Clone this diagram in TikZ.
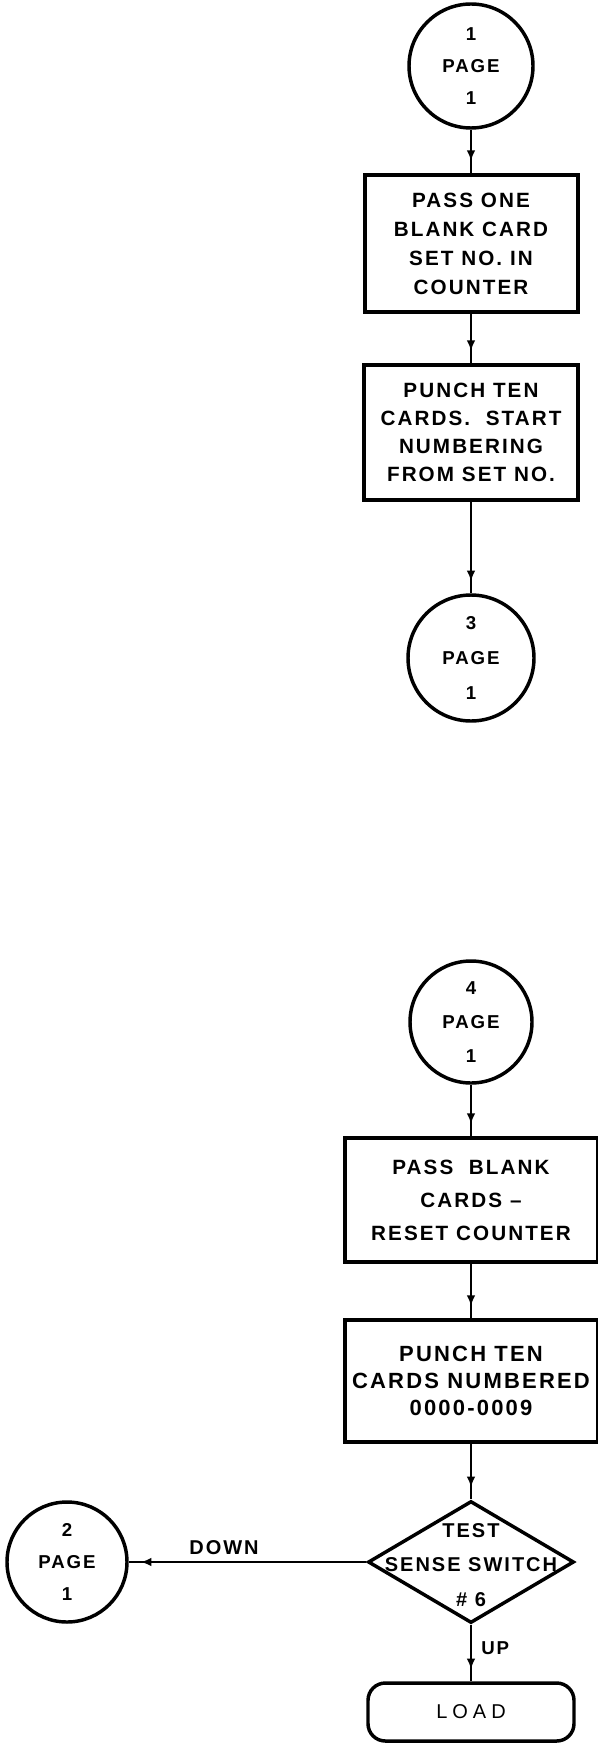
\documentclass[tikz,border=0pt]{standalone}
\usepackage{fontspec}
\setmainfont{Liberation Sans}[LetterSpace=10]
\usetikzlibrary{shapes.geometric,decorations.markings,arrows.meta}
\begin{document}
\begin{tikzpicture}[x=0.75pt,y=-0.75pt,
  boxnode/.style={draw, line width=3pt, inner sep=0pt, align=center},
  bfont/.style={font=\bfseries\fontsize{15.5}{#1}\selectfont},
  conn/.style={circle, draw, line width=2.6pt, inner sep=0pt, align=center},
  cfont/.style={font=\bfseries\fontsize{14}{#1}\selectfont},
  flow/.style={line width=1.8pt, postaction={decorate},
    decoration={markings, mark=at position -9pt with {\arrow{Latex[length=8pt,width=6.5pt]}}}},
  lbl/.style={inner sep=0pt, font=\bfseries\fontsize{14}{16}\selectfont}
]
\fill[white] (0,0) rectangle (598,1744);
\useasboundingbox (0,0) rectangle (598,1744);

% upper part
\node[conn, cfont=24pt, minimum size=93pt] (c1) at (471,66) {1\\PAGE\\1};
\node[boxnode, bfont=21.75pt, minimum width=159.75pt, minimum height=102.75pt] (b1) at (471,243.5)
  {PASS ONE\\BLANK CARD\\SET NO. IN\\COUNTER};
\node[boxnode, bfont=21pt, minimum width=160.5pt, minimum height=101.25pt] (b2) at (471,432.5)
  {PUNCH TEN\\CARDS.\ \ START\\NUMBERING\\FROM SET NO.};
\node[conn, cfont=26pt, minimum size=94.5pt] (c3) at (471,658) {3\\PAGE\\1};

\draw[flow] (c1) -- (b1);
\draw[flow] (b1) -- (b2);
\draw[flow] (b2) -- (c3);

% lower part
\node[conn, cfont=25.5pt, minimum size=91.5pt] (c4) at (471,1022) {4\\PAGE\\1};
\node[boxnode, bfont=24.75pt, minimum width=189.75pt, minimum height=93pt] (b3) at (471,1200)
  {PASS\ \ BLANK\\CARDS --\\RESET COUNTER};
\node[boxnode, font=\bfseries\fontsize{16.5}{20.25}\selectfont, minimum width=189.75pt, minimum height=91.5pt] (b4) at (471,1381)
  {PUNCH TEN\\CARDS NUMBERED\\0000-0009};
\node[diamond, draw, line width=2.6pt, inner sep=0pt, minimum width=154.5pt, minimum height=91.5pt] (d) at (471,1562) {};
\node[align=center, inner sep=0pt, font=\bfseries\fontsize{15}{26}\selectfont] (dt) at (471,1565) {TEST\\SENSE SWITCH\\\# 6};
\node[draw, line width=2.6pt, rounded corners=13pt, minimum width=154.5pt, minimum height=43.5pt,
  font=\fontsize{15}{18}\selectfont\addfontfeature{LetterSpace=25}] (load) at (471,1712) {LOAD};
\node[conn, cfont=24pt, minimum size=90pt] (c2) at (67,1562) {2\\PAGE\\1};

\draw[flow] (c4) -- (b3);
\draw[flow] (b3) -- (b4);
\draw[flow] (b4) -- (d);
\draw[flow] (d) -- (load);
\draw[flow] (d) -- (c2);

\node[lbl, font=\bfseries\fontsize{15}{16}\selectfont] (down) at (224,1548) {DOWN};
\node[lbl, anchor=west] (up) at (481,1648) {UP};
\end{tikzpicture}
\end{document}
